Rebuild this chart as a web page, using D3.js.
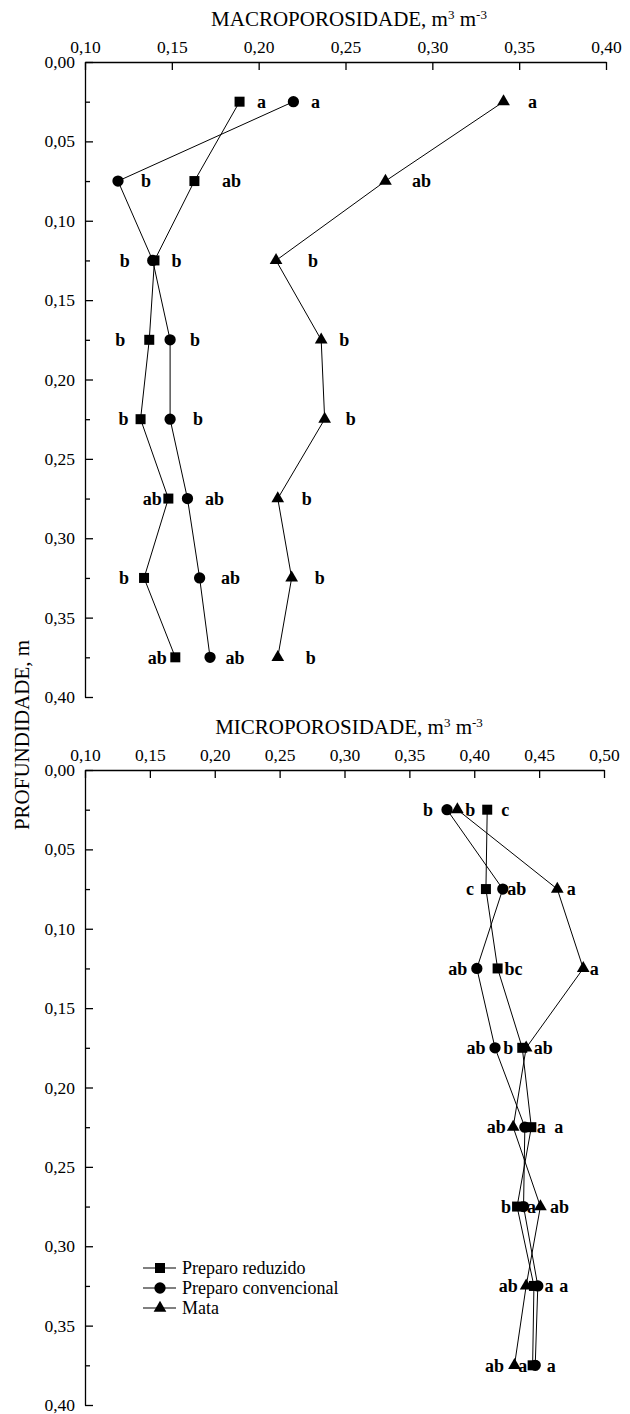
<!DOCTYPE html>
<meta charset="utf-8">
<style>
body { margin: 0; background: #fff; }
svg { display: block; font-family: "Liberation Serif", "Times New Roman", serif; }
.axis path, .axis line { stroke: #000; stroke-width: 1.3px; }
.axis text { font-size: 17.5px; fill: #000; font-family: "Liberation Serif", "Times New Roman", serif; }
.serie { fill: none; stroke: #000; stroke-width: 1px; }
.letra { font-size: 18px; font-weight: bold; }
.titulo { font-size: 21px; }
.legenda { font-size: 18px; font-family: "Liberation Serif", "Times New Roman", serif; }
</style>
<svg></svg>
<script src="https://cdn.jsdelivr.net/npm/d3@7"></script>
<script>

// profundidade (m) das camadas
var depths = [0.025, 0.075, 0.125, 0.175, 0.225, 0.275, 0.325, 0.375];

var depthTicks = [0, 0.05, 0.10, 0.15, 0.20, 0.25, 0.30, 0.35, 0.40];
var macroTicks = [0.10, 0.15, 0.20, 0.25, 0.30, 0.35, 0.40];
var microTicks = [0.10, 0.15, 0.20, 0.25, 0.30, 0.35, 0.40, 0.45, 0.50];

var seriesNames = ["Preparo reduzido", "Preparo convencional", "Mata"];

// macroporosidade, m3 m-3
var macroReduzido     = [0.189, 0.163, 0.140, 0.137, 0.132, 0.148, 0.134, 0.152];
var macroConvencional = [0.220, 0.119, 0.139, 0.149, 0.149, 0.159, 0.166, 0.172];
var macroMata         = [0.341, 0.273, 0.210, 0.236, 0.238, 0.211, 0.219, 0.211];

var macroReduzidoLetras     = ["a", "ab", "b", "b", "b", "ab", "b", "ab"];
var macroConvencionalLetras = ["a", "b", "b", "b", "b", "ab", "ab", "ab"];
var macroMataLetras         = ["a", "ab", "b", "b", "b", "b", "b", "b"];

// microporosidade, m3 m-3
var microReduzido     = [0.410, 0.409, 0.418, 0.437, 0.444, 0.433, 0.446, 0.445];
var microConvencional = [0.379, 0.422, 0.402, 0.416, 0.439, 0.438, 0.449, 0.447];
var microMata         = [0.387, 0.464, 0.484, 0.440, 0.430, 0.451, 0.440, 0.431];

var microReduzidoLetras     = ["c", "c", "bc", "b", "a", "b", "a", "a"];
var microConvencionalLetras = ["b", "ab", "ab", "ab", "a", "a", "a", "a"];
var microMataLetras         = ["b", "a", "a", "ab", "ab", "ab", "ab", "ab"];

// deslocamento horizontal das letras (px) em relação ao símbolo
var macroReduzidoDx     = [22, 37, 22, -29, -17, -16, -20, -18];
var macroConvencionalDx = [22, 28, -28, 25, 28, 27, 31, 25];
var macroMataDx         = [29, 36, 37, 23, 26, 29, 28, 33];

var microReduzidoDx     = [18, -16, 16, -14, 10, -11, 15, -10];
var microConvencionalDx = [-19, 14, -19, -19, 34, 8, 26, 16];
var microMataDx         = [13, 14, 11, 17, -17, 19, -18, -20];

var width = 630,
    height = 1414;

var svg = d3.select("svg")
    .attr("width", width)
    .attr("height", height);

var pt = d3.formatLocale({decimal: ",", thousands: ".", grouping: [3], currency: ["", ""]});
var fmt = pt.format(".2f");

var symbols = [
  d3.symbol().type(d3.symbolSquare).size(100),
  d3.symbol().type(d3.symbolCircle).size(100),
  d3.symbol().type(d3.symbolTriangle).size(70)
];

function panel(opts) {
  var x = d3.scaleLinear().domain(opts.xDomain).range(opts.xRange);
  var y = d3.scaleLinear().domain([0, 0.40]).range(opts.yRange);

  var g = svg.append("g");

  g.append("text")
      .attr("class", "titulo")
      .attr("x", 349)
      .attr("y", opts.yRange[0] - 36)
      .attr("text-anchor", "middle")
      .call(function(t) {
        t.append("tspan").text(opts.title + ", m");
        t.append("tspan").attr("dy", -7).attr("font-size", 13).text("3");
        t.append("tspan").attr("dy", 7).text(" m");
        t.append("tspan").attr("dy", -7).attr("font-size", 13).text("-3");
      });

  g.append("g")
      .attr("class", "axis")
      .attr("transform", "translate(0," + opts.yRange[0] + ")")
      .call(d3.axisTop(x).tickValues(opts.xTicks).tickSize(-8).tickSizeOuter(0).tickPadding(9).tickFormat(fmt));

  g.append("g")
      .attr("class", "axis")
      .attr("transform", "translate(" + opts.xRange[0] + ",0)")
      .call(d3.axisLeft(y).tickValues(depthTicks).tickSize(-8).tickSizeOuter(0).tickPadding(10).tickFormat(fmt));

  // marcas menores nas profundidades das camadas
  g.append("g")
      .attr("class", "axis")
      .attr("transform", "translate(" + opts.xRange[0] + ",0)")
      .call(d3.axisLeft(y).tickValues(depths).tickSize(-5).tickSizeOuter(0).tickFormat(""))
      .select(".domain").remove();

  var line = d3.line()
      .x(function(d) { return x(d[0]); })
      .y(function(d) { return y(d[1]); });

  opts.series.forEach(function(s, i) {
    var pts = s.values.map(function(v, j) { return [v, depths[j]]; });

    g.append("path")
        .attr("class", "serie")
        .attr("d", line(pts));

    g.selectAll(".m" + i)
        .data(pts)
      .enter().append("path")
        .attr("class", "m" + i)
        .attr("transform", function(d) { return "translate(" + x(d[0]) + "," + y(d[1]) + ")"; })
        .attr("d", symbols[i]);

    g.selectAll(".l" + i)
        .data(pts)
      .enter().append("text")
        .attr("class", "letra l" + i)
        .attr("x", function(d, j) { return x(d[0]) + s.dx[j]; })
        .attr("y", function(d) { return y(d[1]); })
        .attr("dy", "0.35em")
        .attr("text-anchor", "middle")
        .text(function(d, j) { return s.letters[j]; });
  });
}

panel({
  title: "MACROPOROSIDADE",
  xDomain: [0.10, 0.40],
  xRange: [85, 606],
  yRange: [62, 697],
  xTicks: macroTicks,
  series: [
    {values: macroReduzido, letters: macroReduzidoLetras, dx: macroReduzidoDx},
    {values: macroConvencional, letters: macroConvencionalLetras, dx: macroConvencionalDx},
    {values: macroMata, letters: macroMataLetras, dx: macroMataDx}
  ]
});

panel({
  title: "MICROPOROSIDADE",
  xDomain: [0.10, 0.50],
  xRange: [85, 604],
  yRange: [770, 1405],
  xTicks: microTicks,
  series: [
    {values: microReduzido, letters: microReduzidoLetras, dx: microReduzidoDx},
    {values: microConvencional, letters: microConvencionalLetras, dx: microConvencionalDx},
    {values: microMata, letters: microMataLetras, dx: microMataDx}
  ]
});

// título do eixo vertical
svg.append("text")
    .attr("class", "titulo")
    .attr("transform", "translate(29,735) rotate(-90)")
    .attr("text-anchor", "middle")
    .text("PROFUNDIDADE, m");

// legenda
var legend = svg.append("g")
    .attr("transform", "translate(143,1268)");

seriesNames.forEach(function(name, i) {
  var row = legend.append("g").attr("transform", "translate(0," + i * 20 + ")");
  row.append("line").attr("x1", 0).attr("x2", 33).attr("stroke", "#000");
  row.append("path").attr("transform", "translate(17,0)").attr("d", symbols[i]);
  row.append("text")
      .attr("class", "legenda")
      .attr("x", 39)
      .attr("dy", "0.35em")
      .text(name);
});

</script>
